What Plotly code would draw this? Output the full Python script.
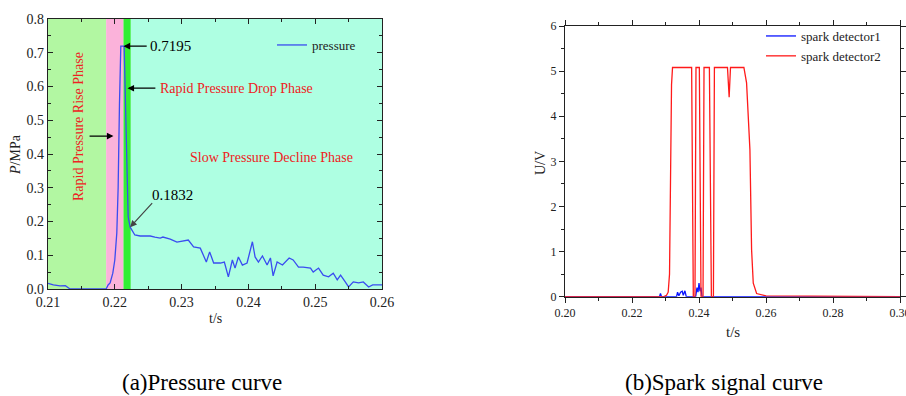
import plotly.graph_objects as go

# ---------------- data ----------------
# (a) pressure history
pressure_t = [0.2100, 0.2108, 0.2118, 0.2126, 0.2133, 0.2150, 0.2170, 0.2187, 0.2190,
              0.2193, 0.2197, 0.2200, 0.2203, 0.2205, 0.2207, 0.2209, 0.2214, 0.2217,
              0.2220, 0.2223, 0.2230, 0.2238, 0.2253, 0.2260, 0.2268, 0.2272, 0.2283,
              0.2293, 0.2302, 0.2310, 0.2318, 0.2328, 0.2337, 0.2342, 0.2348, 0.2358,
              0.2364, 0.2370, 0.2376, 0.2380, 0.2385, 0.2391, 0.2398, 0.2406, 0.2410,
              0.2415, 0.2421, 0.2428, 0.2433, 0.2437, 0.2443, 0.2451, 0.2461, 0.2467,
              0.2475, 0.2482, 0.2493, 0.2497, 0.2505, 0.2512, 0.2520, 0.2527, 0.2533,
              0.2538, 0.2545, 0.2550, 0.2557, 0.2565, 0.2572, 0.2580, 0.2586, 0.2600]
pressure_p = [0.017, 0.012, 0.009, 0.010, 0.000, 0.000, 0.000, 0.000, 0.012,
              0.018, 0.047, 0.086, 0.166, 0.300, 0.550, 0.7195, 0.7195, 0.410,
              0.214, 0.1832, 0.160, 0.157, 0.157, 0.154, 0.151, 0.154, 0.148,
              0.139, 0.142, 0.145, 0.125, 0.121, 0.080, 0.110, 0.077, 0.077,
              0.080, 0.036, 0.086, 0.062, 0.095, 0.071, 0.077, 0.140, 0.095,
              0.080, 0.098, 0.071, 0.092, 0.039, 0.080, 0.071, 0.092, 0.086,
              0.065, 0.065, 0.062, 0.050, 0.062, 0.041, 0.036, 0.047, 0.027,
              0.041, 0.021, 0.006, 0.021, 0.018, 0.021, 0.006, 0.012, 0.012]

# phase boundaries (s) and background colours
phase_edges = [0.2100, 0.2187, 0.2213, 0.2224, 0.2600]
phase_colors = ["#b2f7a2", "#fbb2da", "#33ee33", "#aeffe2"]

# (b) spark detector signals
spark1_t = [0.2000, 0.2282, 0.2285, 0.2288, 0.2333, 0.2336, 0.2340, 0.2345, 0.2350,
            0.2353, 0.2358, 0.2362, 0.2390, 0.2394, 0.2397, 0.2400, 0.2403, 0.2406,
            0.2409, 0.3000]
spark1_u = [0.00, 0.00, 0.07, 0.00, 0.00, 0.10, 0.02, 0.10, 0.12,
            0.03, 0.13, 0.00, 0.00, 0.20, 0.10, 0.30, 0.12, 0.20,
            0.00, 0.00]

spark2_t = [0.2000, 0.2295, 0.2303, 0.2308, 0.2312, 0.2315, 0.2318, 0.2321, 0.2378,
            0.2383, 0.2388, 0.2391, 0.2401, 0.2406, 0.2412, 0.2415, 0.2431, 0.2437,
            0.2443, 0.2446, 0.2485, 0.2490, 0.2494, 0.2534, 0.2542, 0.2552, 0.2557,
            0.2562, 0.2572, 0.2600, 0.3000]
spark2_u = [0.00, 0.00, 0.03, 0.10, 0.50, 2.50, 4.70, 5.08, 5.08,
            0.00, 0.00, 5.08, 5.08, 0.00, 0.00, 5.08, 5.08, 0.00,
            0.00, 5.08, 5.08, 4.42, 5.08, 5.08, 4.74, 3.26, 1.04,
            0.30, 0.07, 0.02, 0.00]

# tick positions
ticks_a_x = [0.21, 0.22, 0.23, 0.24, 0.25, 0.26]
ticks_a_y = [0.0, 0.1, 0.2, 0.3, 0.4, 0.5, 0.6, 0.7, 0.8]
ticks_b_x = [0.20, 0.22, 0.24, 0.26, 0.28, 0.30]
ticks_b_y = [0, 1, 2, 3, 4, 5, 6]

# ---------------- figure ----------------
W, H = 906, 396
SERIF = "Liberation Serif, Times New Roman, serif"
INK = "#222222"


def px(x):
    return x / W


def py(y):
    return 1 - y / H


fig = go.Figure()

fig.add_trace(go.Scatter(x=pressure_t, y=pressure_p, mode="lines", name="pressure",
                         line=dict(color="#3a4cf0", width=1.3), showlegend=True,
                         xaxis="x", yaxis="y", legend="legend"))
fig.add_trace(go.Scatter(x=spark1_t, y=spark1_u, mode="lines", name="spark detector1",
                         line=dict(color="#0a14ff", width=1.3), showlegend=True,
                         xaxis="x2", yaxis="y2", legend="legend2"))
fig.add_trace(go.Scatter(x=spark2_t, y=spark2_u, mode="lines", name="spark detector2",
                         line=dict(color="#ff1a1a", width=1.3), showlegend=True,
                         xaxis="x2", yaxis="y2", legend="legend2"))

# coloured phase bands behind the pressure curve
shapes = []
for x0, x1, c in zip(phase_edges[:-1], phase_edges[1:], phase_colors):
    shapes.append(dict(type="rect", xref="x", yref="y domain", x0=x0, x1=x1, y0=0, y1=1,
                       fillcolor=c, line=dict(width=0), layer="below"))


def axis(size, ticks, **kw):
    d = dict(showgrid=False, zeroline=False, showline=True, linecolor=INK,
             linewidth=1.2, mirror="ticks", tickcolor=INK, ticklen=5, ticks=ticks,
             automargin=False, ticklabeloverflow="allow",
             tickfont=dict(family=SERIF, color=INK, size=size))
    d.update(kw)
    return d


fig.update_layout(
    width=W, height=H, margin=dict(l=0, r=0, t=0, b=0, autoexpand=False),
    paper_bgcolor="white", plot_bgcolor="white",
    font=dict(family=SERIF, color=INK),
    showlegend=True,
    shapes=shapes,
    xaxis=axis(14, "inside", domain=[px(48), px(382)], anchor="y", range=[0.21, 0.26],
               tickvals=ticks_a_x, ticktext=[f"{v:.2f}" for v in ticks_a_x],
               minor=dict(dtick=0.005, tick0=0.21, ticks="inside", ticklen=3, tickcolor=INK)),
    yaxis=axis(14, "inside", domain=[py(289), py(19)], anchor="x", range=[0, 0.8],
               tickvals=ticks_a_y, ticktext=[f"{v:.1f}" for v in ticks_a_y],
               minor=dict(dtick=0.05, tick0=0, ticks="inside", ticklen=3, tickcolor=INK)),
    xaxis2=axis(12, "outside", domain=[px(565), px(900)], anchor="y2", range=[0.20, 0.30],
                tickvals=ticks_b_x, ticktext=[f"{v:.2f}" for v in ticks_b_x],
                minor=dict(dtick=0.01, tick0=0.2, ticks="outside", ticklen=3, tickcolor=INK)),
    yaxis2=axis(12, "outside", domain=[py(296.7), py(26)], anchor="x2", range=[0, 6],
                tickvals=ticks_b_y, ticktext=[str(v) for v in ticks_b_y],
                minor=dict(dtick=0.5, tick0=0, ticks="outside", ticklen=3, tickcolor=INK)),
    legend=dict(x=px(272), y=py(30), xanchor="left", yanchor="top",
                bgcolor="rgba(0,0,0,0)", font=dict(family=SERIF, size=13, color=INK),
                itemwidth=30, tracegroupgap=2),
    legend2=dict(x=px(761), y=py(21), xanchor="left", yanchor="top",
                 bgcolor="rgba(0,0,0,0)", font=dict(family=SERIF, size=13, color=INK),
                 itemwidth=30, tracegroupgap=0),
)

ann = []


def arrow(x, y, ax, ay, color="black"):
    ann.append(dict(x=x, y=y, ax=ax, ay=ay, xref="x", yref="y", axref="x", ayref="y",
                    text="", showarrow=True, arrowhead=2, arrowsize=1.1, arrowwidth=1.2,
                    arrowcolor=color))


def label(x, y, text, size=14, color="black", angle=0, xref="x", yref="y"):
    ann.append(dict(x=x, y=y, xref=xref, yref=yref, text=text, showarrow=False,
                    xanchor="center", yanchor="middle",
                    textangle=angle, font=dict(family=SERIF, size=size, color=color)))


# peak and end-of-drop values
arrow(0.2213, 0.7195, 0.2250, 0.7195)
label(0.2283, 0.7195, "0.7195", size=15)
arrow(0.2223, 0.1832, 0.2258, 0.259, color="#444444")
label(0.2286, 0.279, "0.1832", size=15)

# phase labels
RED = "#ee2222"
arrow(0.2219, 0.595, 0.2263, 0.595)
label(0.2382, 0.595, "Rapid Pressure Drop Phase", size=14, color=RED)
arrow(0.2198, 0.453, 0.2160, 0.453)
label(0.2145, 0.48, "Rapid Pressure Rise Phase", size=14, color=RED, angle=-90)
label(0.2435, 0.391, "Slow Pressure Decline Phase", size=14, color=RED)

# axis titles
label(px(15), py(155), "<i>P</i>/MPa", size=14, color=INK, angle=-90, xref="paper", yref="paper")
label(px(215), py(318), "t/s", size=14, color=INK, xref="paper", yref="paper")
label(px(541), py(163), "U/V", size=14, color=INK, angle=-90, xref="paper", yref="paper")
label(px(733), py(332), "t/s", size=15, color=INK, xref="paper", yref="paper")

# panel captions
label(px(202), py(382), "(a)Pressure curve", size=23, color="black", xref="paper", yref="paper")
label(px(724), py(382), "(b)Spark signal curve", size=23, color="black", xref="paper", yref="paper")

fig.update_layout(annotations=ann)

fig.write_html("out.html")
